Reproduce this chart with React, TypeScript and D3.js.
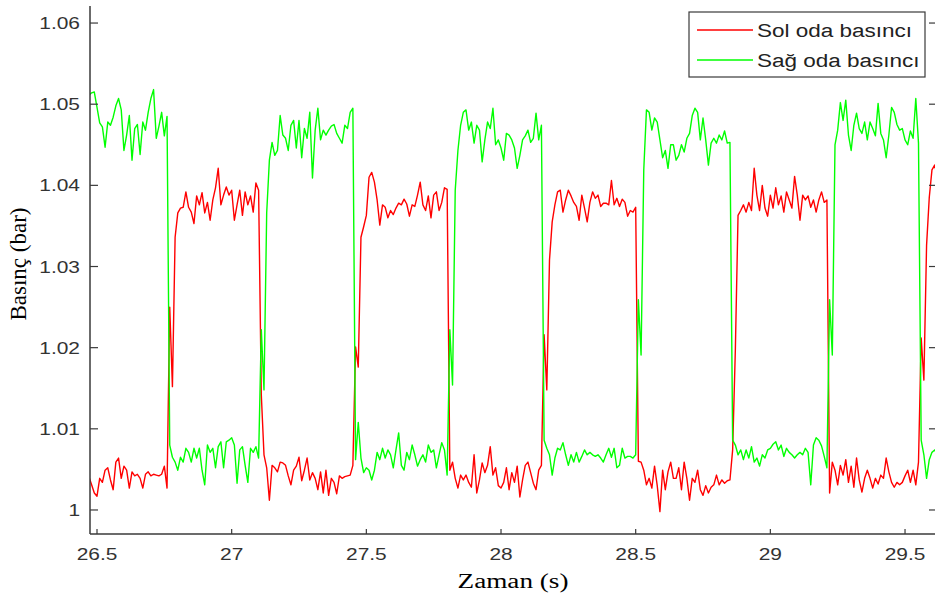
import React from "react";
import * as d3 from "d3";

// sample clock of the recording (s)
const t0 = 26.47;
const dt = 0.01;

// Sol oda basıncı (bar)
const solOda = [
  1.0041, 1.0031, 1.0021, 1.0017, 1.0039, 1.0034, 1.0049, 1.0052, 1.0037, 1.0025,
  1.0059, 1.0064, 1.0039, 1.0054, 1.0049, 1.0027, 1.0047, 1.0042, 1.0044, 1.0039,
  1.0027, 1.0044, 1.0047, 1.0042, 1.0044, 1.0043, 1.0042, 1.0044, 1.0054, 1.0027,
  1.025, 1.0152, 1.0336, 1.0366, 1.0372, 1.0373, 1.0392, 1.0373, 1.0367, 1.0353,
  1.0387, 1.0376, 1.0391, 1.0366, 1.0379, 1.0357, 1.0382, 1.0397, 1.0421, 1.0376,
  1.0388, 1.0398, 1.0388, 1.0394, 1.0357, 1.0376, 1.0394, 1.0363, 1.0392, 1.0376,
  1.0387, 1.0367, 1.0403, 1.0394, 1.0142, 1.0068, 1.0052, 1.0012, 1.0055, 1.0052,
  1.0047, 1.0059, 1.0058, 1.0055, 1.0042, 1.0031, 1.0049, 1.0054, 1.0065, 1.0036,
  1.0049, 1.0064, 1.0037, 1.0046, 1.0039, 1.0025, 1.0047, 1.0021, 1.0049, 1.0018,
  1.0039, 1.0034, 1.002, 1.0042, 1.0039, 1.0041, 1.0042, 1.0043, 1.0055, 1.0201,
  1.0176, 1.0336, 1.0349, 1.0363, 1.041, 1.0416, 1.0404, 1.0382, 1.0351, 1.0376,
  1.0373, 1.036, 1.0369, 1.0364, 1.0372, 1.0378, 1.0376, 1.0383, 1.0377, 1.0362,
  1.0376, 1.0374, 1.0388, 1.0404, 1.0376, 1.0369, 1.0387, 1.036, 1.0388, 1.0392,
  1.0369, 1.0379, 1.0397, 1.0395, 1.0049, 1.0059, 1.0039, 1.0027, 1.0043, 1.0037,
  1.0043, 1.0034, 1.0028, 1.0068, 1.0021, 1.0037, 1.0058, 1.0046, 1.0055, 1.0078,
  1.0043, 1.0052, 1.003, 1.0027, 1.0034, 1.0052, 1.0025, 1.0046, 1.0034, 1.0054,
  1.0016, 1.0037, 1.0055, 1.0059, 1.0046, 1.0033, 1.0025, 1.0049, 1.0055, 1.0216,
  1.0148, 1.0308, 1.0355, 1.0376, 1.0392, 1.0394, 1.0367, 1.0382, 1.0394, 1.0387,
  1.0379, 1.0374, 1.0357, 1.0388, 1.0372, 1.0355, 1.0379, 1.0392, 1.0384, 1.0388,
  1.0374, 1.0378, 1.0378, 1.0376, 1.0406, 1.0376, 1.0384, 1.0374, 1.0383, 1.0379,
  1.0362, 1.0369, 1.0367, 1.0373, 1.006, 1.0059, 1.0049, 1.0031, 1.0039, 1.0027,
  1.0054, 1.003, 0.9998, 1.0049, 1.0025, 1.0047, 1.0059, 1.0039, 1.0039, 1.0052,
  1.0025, 1.0059, 1.0039, 1.0012, 1.0039, 1.0034, 1.0049, 1.0025, 1.0018, 1.003,
  1.0021, 1.0028, 1.0031, 1.0043, 1.0031, 1.0037, 1.0033, 1.0036, 1.0037, 1.0074,
  1.0197, 1.0363, 1.0369, 1.0376, 1.0367, 1.0379, 1.0369, 1.0421, 1.0388, 1.0369,
  1.04, 1.0372, 1.0362, 1.0388, 1.0372, 1.0397, 1.0376, 1.0387, 1.0367, 1.0392,
  1.0382, 1.0372, 1.0411, 1.0388, 1.0357, 1.0388, 1.0382, 1.0387, 1.0373, 1.0382,
  1.0367, 1.0382, 1.0392, 1.0379, 1.0382, 1.0021, 1.0059, 1.0049, 1.0031, 1.0055,
  1.0043, 1.0062, 1.0034, 1.0054, 1.0028, 1.0064, 1.0037, 1.0022, 1.0039, 1.0049,
  1.0039, 1.0027, 1.0039, 1.0032, 1.0043, 1.0039, 1.0064, 1.0047, 1.0034, 1.0028,
  1.0034, 1.0031, 1.0034, 1.0042, 1.0049, 1.0034, 1.0049, 1.0031, 1.0059, 1.0212,
  1.016, 1.0326, 1.0385, 1.0419, 1.0425, 1.041,
];

// Sağ oda basıncı (bar)
const sagOda = [
  1.0511, 1.0514, 1.0515, 1.0496, 1.0477, 1.0472, 1.0447, 1.0478, 1.0474, 1.0484,
  1.0498, 1.0507, 1.0493, 1.0443, 1.0462, 1.0486, 1.0431, 1.047, 1.0475, 1.0438,
  1.0478, 1.0468, 1.049, 1.0507, 1.0518, 1.0458, 1.0473, 1.049, 1.0461, 1.0485,
  1.008, 1.0065, 1.0059, 1.0049, 1.0065, 1.0059, 1.0076, 1.0071, 1.0059, 1.0076,
  1.0064, 1.0076, 1.0049, 1.0031, 1.008, 1.0071, 1.0076, 1.0052, 1.0078, 1.0084,
  1.0052, 1.0084, 1.0086, 1.0089, 1.008, 1.0033, 1.0074, 1.0078, 1.0055, 1.0034,
  1.0076, 1.0071, 1.0078, 1.0064, 1.0222, 1.0148, 1.0366, 1.0431, 1.0453, 1.0437,
  1.0443, 1.0486, 1.0462, 1.0458, 1.0443, 1.0474, 1.048, 1.0446, 1.048, 1.0434,
  1.047, 1.0458, 1.049, 1.0409, 1.0468, 1.0495, 1.0456, 1.0468, 1.0462, 1.0468,
  1.0473, 1.0475, 1.0464, 1.0458, 1.0452, 1.0474, 1.047, 1.049, 1.0495, 1.0062,
  1.0108, 1.0064, 1.0046, 1.0052, 1.0049, 1.0037, 1.0049, 1.0071, 1.0062, 1.0076,
  1.0064, 1.0074, 1.0068, 1.0052, 1.0074, 1.0095, 1.0055, 1.0049, 1.0071, 1.0062,
  1.008, 1.0068, 1.0054, 1.0062, 1.0068, 1.0059, 1.008, 1.0071, 1.0074, 1.0052,
  1.0068, 1.0083, 1.0074, 1.0043, 1.0222, 1.0154, 1.0394, 1.0443, 1.0474, 1.049,
  1.0493, 1.0468, 1.0478, 1.0452, 1.0474, 1.0468, 1.0429, 1.0456, 1.0478, 1.047,
  1.0495, 1.045, 1.0456, 1.0446, 1.0431, 1.0464, 1.0462, 1.0456, 1.0446, 1.0421,
  1.0437, 1.0456, 1.0461, 1.0468, 1.0453, 1.0458, 1.0489, 1.0456, 1.0474, 1.0086,
  1.0076, 1.0068, 1.0043, 1.0064, 1.0076, 1.0074, 1.0083, 1.0068, 1.0055, 1.0068,
  1.0059, 1.0071, 1.0059, 1.0066, 1.0074, 1.0068, 1.0071, 1.0068, 1.0066, 1.0068,
  1.0064, 1.0059, 1.0068, 1.0076, 1.0065, 1.0076, 1.0052, 1.0055, 1.0076, 1.0064,
  1.0066, 1.0066, 1.0064, 1.0068, 1.0259, 1.0191, 1.0419, 1.0493, 1.049, 1.0468,
  1.0483, 1.0478, 1.0456, 1.0434, 1.0443, 1.0421, 1.045, 1.045, 1.0431, 1.0437,
  1.045, 1.0441, 1.0458, 1.0464, 1.0486, 1.0495, 1.049, 1.0456, 1.0483, 1.0456,
  1.0425, 1.0452, 1.0458, 1.0452, 1.0462, 1.0456, 1.0467, 1.0452, 1.0453, 1.0086,
  1.008, 1.0068, 1.0074, 1.0062, 1.0074, 1.0064, 1.0078, 1.0059, 1.0064, 1.0054,
  1.0068, 1.0064, 1.0074, 1.0076, 1.0081, 1.0084, 1.0074, 1.008, 1.0066, 1.0076,
  1.0071, 1.0068, 1.0064, 1.0068, 1.0071, 1.0068, 1.0076, 1.0071, 1.0031, 1.008,
  1.0089, 1.0086, 1.0079, 1.0066, 1.0052, 1.0259, 1.0191, 1.045, 1.0468, 1.0502,
  1.048, 1.0505, 1.0462, 1.0443, 1.0474, 1.0489, 1.047, 1.0464, 1.0478, 1.0456,
  1.0478, 1.047, 1.0461, 1.0501, 1.0464, 1.0456, 1.0434, 1.0462, 1.0496, 1.049,
  1.0475, 1.0468, 1.047, 1.0456, 1.045, 1.0467, 1.0458, 1.0507, 1.0452, 1.0086,
  1.0068, 1.0039, 1.0062, 1.0071, 1.0074, 1.0068,
];

const xTicks = [26.5, 27, 27.5, 28, 28.5, 29, 29.5];
const yTicks = [1, 1.01, 1.02, 1.03, 1.04, 1.05, 1.06];
const seriesNames = ["Sol oda basıncı", "Sağ oda basıncı"];
const seriesColors = ["#ff0000", "#00ff00"];

const W = 935;
const H = 599;
const L = 90, R = 936, T = 6, B = 534;

const App = () => {
  const x = d3.scaleLinear().domain([26.474, 29.615]).range([L, R]);
  const y = d3.scaleLinear().domain([0.99704, 1.0621]).range([B, T]);

  const line = d3
    .line<number>()
    .x((_, i) => x(t0 + i * dt))
    .y((d) => y(d));

  const axisColor = "#3a3a3a";
  const sx = 1.23; // the picture is stretched sideways

  return (
    <svg
      width={W}
      height={H}
      style={{ position: "absolute", left: 0, top: 0, background: "#fff" }}
    >
      <defs>
        <clipPath id="plotArea">
          <rect x={L} y={T} width={R - L} height={B - T} />
        </clipPath>
      </defs>

      <g clipPath="url(#plotArea)" fill="none" strokeWidth={1.4} strokeLinejoin="round">
        <path d={line(solOda) || ""} stroke={seriesColors[0]} />
        <path d={line(sagOda) || ""} stroke={seriesColors[1]} />
      </g>

      {/* axes lines */}
      <line x1={L} x2={L} y1={T} y2={B} stroke={axisColor} strokeWidth={1.5} />
      <line x1={L} x2={R} y1={B} y2={B} stroke={axisColor} strokeWidth={1.5} />

      {yTicks.map((v) => (
        <g key={"y" + v}>
          <line x1={L} x2={L + 8} y1={y(v)} y2={y(v)} stroke={axisColor} strokeWidth={1.2} />
          <line x1={R - 7} x2={R} y1={y(v)} y2={y(v)} stroke={axisColor} strokeWidth={1.2} />
          <text
            transform={`translate(${L - 10},${y(v) + 6}) scale(${sx},1)`}
            textAnchor="end"
            fontFamily="Liberation Sans, Arial, sans-serif"
            fontSize={17}
            fill="#333"
          >
            {String(v)}
          </text>
        </g>
      ))}

      {xTicks.map((v) => (
        <g key={"x" + v}>
          <line x1={x(v)} x2={x(v)} y1={B} y2={B - 5} stroke={axisColor} strokeWidth={1.2} />
          <text
            transform={`translate(${x(v)},${B + 26}) scale(${sx},1)`}
            textAnchor="middle"
            fontFamily="Liberation Sans, Arial, sans-serif"
            fontSize={17}
            fill="#333"
          >
            {String(v)}
          </text>
        </g>
      ))}

      <text
        transform={`translate(${513},${588}) scale(1.36,1)`}
        textAnchor="middle"
        fontFamily="Liberation Serif, Times New Roman, serif"
        fontSize={20}
        fill="#000"
      >
        Zaman (s)
      </text>
      <text
        transform={`translate(${26},${264}) rotate(-90)`}
        textAnchor="middle"
        fontFamily="Liberation Serif, Times New Roman, serif"
        fontSize={23}
        fill="#000"
      >
        Basınç (bar)
      </text>

      {/* legend */}
      <rect x={689} y={12} width={236} height={65} fill="#fff" stroke={axisColor} strokeWidth={1.2} />
      {seriesNames.map((name, i) => (
        <g key={name}>
          <line
            x1={697}
            x2={753}
            y1={30 + i * 30}
            y2={30 + i * 30}
            stroke={seriesColors[i]}
            strokeWidth={1.4}
          />
          <text
            transform={`translate(${757},${37 + i * 30}) scale(1.25,1)`}
            fontFamily="Liberation Sans, Arial, sans-serif"
            fontSize={18}
            fill="#222"
          >
            {name}
          </text>
        </g>
      ))}
    </svg>
  );
};

export default App;
